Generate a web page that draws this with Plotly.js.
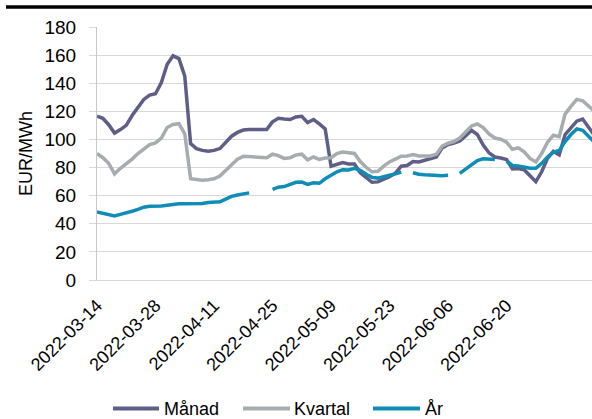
<!DOCTYPE html>
<html>
<head>
<meta charset="utf-8">
<script src="https://cdn.plot.ly/plotly-3.0.1.min.js"></script>
<style>
html,body{margin:0;padding:0;background:#fff;}
#chart{width:592px;height:419px;}
</style>
</head>
<body>
<div id="chart"></div>
<script>
var dates = [
"2022-03-14","2022-03-15","2022-03-16","2022-03-17","2022-03-18",
"2022-03-21","2022-03-22","2022-03-23","2022-03-24","2022-03-25",
"2022-03-28","2022-03-29","2022-03-30","2022-03-31","2022-04-01",
"2022-04-04","2022-04-05","2022-04-06","2022-04-07","2022-04-08",
"2022-04-11","2022-04-12","2022-04-13","2022-04-14","2022-04-15",
"2022-04-18","2022-04-19","2022-04-20","2022-04-21","2022-04-22",
"2022-04-25","2022-04-26","2022-04-27","2022-04-28","2022-04-29",
"2022-05-02","2022-05-03","2022-05-04","2022-05-05","2022-05-06",
"2022-05-09","2022-05-10","2022-05-11","2022-05-12","2022-05-13",
"2022-05-16","2022-05-17","2022-05-18","2022-05-19","2022-05-20",
"2022-05-23","2022-05-24","2022-05-25","2022-05-26","2022-05-27",
"2022-05-30","2022-05-31","2022-06-01","2022-06-02","2022-06-03",
"2022-06-06","2022-06-07","2022-06-08","2022-06-09","2022-06-10",
"2022-06-13","2022-06-14","2022-06-15","2022-06-16","2022-06-17",
"2022-06-20","2022-06-21","2022-06-22","2022-06-23","2022-06-24",
"2022-06-27","2022-06-28","2022-06-29","2022-06-30","2022-07-01",
"2022-07-04","2022-07-05","2022-07-06","2022-07-07","2022-07-08",
"2022-07-11"
];

var manad = [
116.5,115,110.5,104.5,107,110,117,123,128.5,131.5,
132.5,140.5,153.5,159.5,157.5,145,97,93.5,92.2,91.6,
92.2,93.5,98,102.3,105,106.7,107,107,107,107,
112.5,115,114.5,114.2,116,116.5,112,114.2,111,107.5,
81,82.5,83.5,82.5,82.5,76.3,72.7,69.5,69.8,71.5,
73.5,76,81,81.5,84.3,84,85,86.5,87.5,94,
96.4,97.5,99,102.5,106.5,103.5,96,90.5,87.5,86.8,
85.7,79,79.3,78.5,74.5,70,77,86.5,91.5,89,
103.5,108.5,113,114.5,108.5,103
];

var kvartal = [
90,87,83,75.5,79.5,82.5,86,90,93.5,96.3,
97.5,101,108.5,110.7,111.2,104,72,71.5,71,71.3,
72,74,78,82.5,86,88,87.6,87.6,87.2,87,
89.5,88.5,86.5,87,89,89.5,85.5,87.5,85.8,86.8,
87,90,91,90.2,90,84.3,80.2,77,77.4,81,
84,86,88.1,88.2,89.2,88.3,88.5,88.2,89.5,95.2,
97.3,98.5,101,105.5,109.6,111,108.5,104,101,100.2,
98,93,94,91.2,86.5,84,90,98,103,102,
118,123.5,128.5,127.5,124,120
];

var ar = [
48.5,47.6,46.4,45.5,46.7,48.1,48.9,50.2,51.8,52.5,
52.5,52.6,53.2,54,54.2,54.2,54.3,54.4,54.4,55.2,
55.4,55.6,57.5,59.5,60.5,61.3,62,null,null,null,
64.4,66,66.5,68,69.5,69.7,68,69.2,68.8,72,
74.5,77,78.5,78.3,79.5,78,75.3,73,72.5,73.8,
74.5,75.5,76.8,null,76.3,75.2,74.8,74.5,74.2,74.2,
74.5,null,75.8,79,82,85,86.2,85.8,85.7,null,
84.5,81.5,81.2,80.5,79.5,79.5,83,87.5,91,92.2,
98.5,103.5,107.5,106.5,102.5,98
];

var tickDates = ["2022-03-14","2022-03-28","2022-04-11","2022-04-25","2022-05-09","2022-05-23","2022-06-06","2022-06-20"];
var seriesNames = ["Månad","Kvartal","År"];
var colors = ["#5e5e86","#a7acaf","#0f8db6"];

var font = {family:"'Liberation Sans', Arial, sans-serif", size:18, color:"#000"};
var yfont = {family:"'Liberation Sans', Arial, sans-serif", size:19, color:"#000"};

var traces = [manad, kvartal, ar].map(function(vals, k){
  return {
    x: dates, y: vals, type:'scatter', mode:'lines', name: seriesNames[k],
    connectgaps:false,
    line:{color:colors[k], width:3.5, shape:'linear'},
    hoverinfo:'skip'
  };
});

// hand-placed legend (paper coordinates)
var legY = -0.508;
var legLineX = [[0.0323,0.1253],[0.2949,0.3899],[0.5576,0.6525]];
var legTextX = [0.1313,0.3940,0.6586];

var shapes = [{
  type:'line', xref:'paper', yref:'paper',
  x0:-0.1838, x1:1, y0:1.0789, y1:1.0789,
  line:{color:'#000', width:3.5}
}];
var annotations = [];
seriesNames.forEach(function(n,k){
  shapes.push({type:'line', xref:'paper', yref:'paper',
    x0:legLineX[k][0], x1:legLineX[k][1], y0:legY, y1:legY,
    line:{color:colors[k], width:4}});
  annotations.push({xref:'paper', yref:'paper', x:legTextX[k], y:legY,
    xanchor:'left', yanchor:'middle', showarrow:false, text:n, font:font});
});

var layout = {
  width:592, height:419,
  margin:{l:97, r:0, t:27, b:138.5, pad:0},
  paper_bgcolor:'#fff', plot_bgcolor:'#fff',
  font:font,
  showlegend:false,
  xaxis:{
    type:'category', range:[0,84.6],
    tickmode:'array', tickvals:tickDates, ticktext:tickDates,
    tickangle:-45, ticks:'', showgrid:false, zeroline:false,
    showline:true, linecolor:'#d9d9d9', linewidth:1,
    ticklabelstandoff:7,
    tickfont:font, automargin:false
  },
  yaxis:{
    range:[0,180], dtick:20, tick0:0,
    showgrid:true, gridcolor:'#d9d9d9', gridwidth:1,
    zeroline:false, showline:true, linecolor:'#c8c8c8', linewidth:1,
    ticks:'outside', ticklen:7, tickcolor:'#d9d9d9', tickwidth:1,
    ticklabelstandoff:9,
    tickfont:yfont,
    title:{text:'EUR/MWh', font:font, standoff:7},
    automargin:false
  },
  shapes:shapes,
  annotations:annotations
};

Plotly.newPlot('chart', traces, layout, {staticPlot:true, displayModeBar:false});
</script>
</body>
</html>
